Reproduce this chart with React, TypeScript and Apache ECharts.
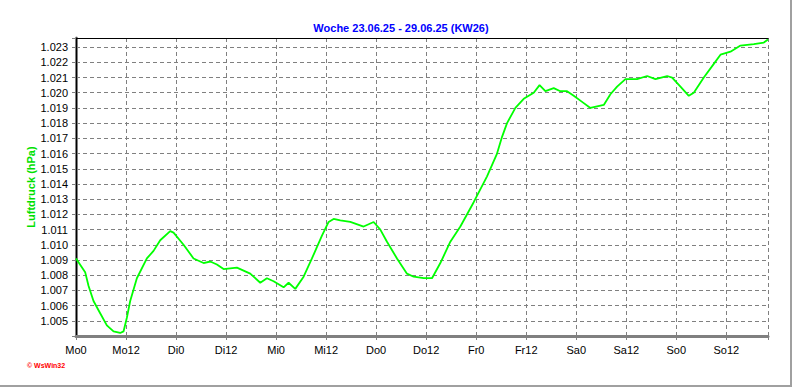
import React, { useEffect, useRef } from "react";
import * as echarts from "echarts";

const titleText = "Woche 23.06.25 - 29.06.25 (KW26)";
const yAxisName = "Luftdruck (hPa)";
const dayNames = ["Mo", "Di", "Mi", "Do", "Fr", "Sa", "So"];

const hours = [0, 2.2, 3.0, 4.2, 5.8, 7.4, 9.0, 10.6, 11.4, 12.2, 13.0, 14.6, 17.0, 18.6, 20.2, 22.6, 23.4, 25.8, 28.2, 30.6, 32.2, 33.8, 35.4, 38.6, 41.8, 44.2, 45.8, 47.4, 49.8, 51.0, 52.6, 54.6, 56.6, 59.0, 60.6, 61.8, 63.4, 65.8, 69.0, 71.4, 73.0, 74.6, 77.0, 79.4, 81.0, 83.4, 85.4, 87.4, 89.8, 92.2, 95.4, 98.6, 101.0, 102.2, 103.4, 105.4, 107.4, 109.8, 111.2, 112.6, 114.6, 116.2, 117.8, 119.4, 121.4, 123.4, 125.0, 126.6, 128.2, 129.8, 131.8, 134.6, 137.0, 139.0, 141.8, 143.0, 145.0, 147.0, 148.2, 150.6, 153.0, 154.6, 157.0, 159.4, 162.6, 165.0, 166.0];

const pressure = [1.0091, 1.0082, 1.0073, 1.0063, 1.0055, 1.0047, 1.0043, 1.0042, 1.0043, 1.0052, 1.0063, 1.0078, 1.0091, 1.0096, 1.0103, 1.0109, 1.0108, 1.0100, 1.0091, 1.0088, 1.0089, 1.0087, 1.0084, 1.0085, 1.0081, 1.0075, 1.0078, 1.0076, 1.0072, 1.0075, 1.0071, 1.0079, 1.0091, 1.0106, 1.0115, 1.0117, 1.0116, 1.0115, 1.0112, 1.0115, 1.0110, 1.0102, 1.0091, 1.0081, 1.0079, 1.0078, 1.0078, 1.0088, 1.0102, 1.0112, 1.0128, 1.0145, 1.0160, 1.0171, 1.0180, 1.0190, 1.0196, 1.0200, 1.0205, 1.0201, 1.0203, 1.0201, 1.0201, 1.0198, 1.0194, 1.0190, 1.0191, 1.0192, 1.0199, 1.0204, 1.0209, 1.0209, 1.0211, 1.0209, 1.0211, 1.0210, 1.0204, 1.0198, 1.0200, 1.0210, 1.0219, 1.0225, 1.0227, 1.0231, 1.0232, 1.0233, 1.0235];

const xMin = 0;
const xMax = 166;
const yMin = 1.004;
const yMax = 1.0236;

export default function App() {
  const ref = useRef<HTMLDivElement>(null);
  useEffect(() => {
    if (!ref.current) return;
    const chart = echarts.init(ref.current, null, { renderer: "svg" });
    const font = "'Liberation Sans', Arial, sans-serif";
    const data = hours.map((h, i) => [h, pressure[i]]);
    chart.setOption({
      animation: false,
      backgroundColor: "#ffffff",
      title: {
        text: titleText,
        left: 396,
        top: 17,
        textAlign: "center",
        textStyle: { color: "#0000ff", fontSize: 11, fontWeight: "bold", fontFamily: font },
      },
      grid: { left: 76, top: 38, right: 24, bottom: 51 },
      xAxis: [
        {
          type: "value",
          min: xMin,
          max: xMax,
          interval: 12,
          axisLine: { show: true, lineStyle: { color: "#808080", width: 3 } },
          axisTick: { show: true, length: 4, lineStyle: { color: "#808080" } },
          minorTick: { show: true, splitNumber: 4, length: 2, lineStyle: { color: "#808080" } },
          axisLabel: {
            color: "#000",
            fontSize: 11,
            fontFamily: font,
            margin: 8,
            formatter: (v: number) => {
              if (Math.abs(v % 12) > 0.01 || v >= xMax) return "";
              const d = Math.floor(v / 24);
              return dayNames[d] + String(Math.round(v % 24));
            },
          },
          splitLine: { show: true, lineStyle: { color: "#808080", type: [4, 3], width: 1 } },
        },
        {
          type: "value",
          position: "top",
          min: xMin,
          max: xMax,
          axisLine: { show: true, lineStyle: { color: "#000", width: 1 } },
          axisTick: { show: false },
          axisLabel: { show: false },
          splitLine: { show: false },
        },
      ],
      yAxis: [
        {
          type: "value",
          min: yMin,
          max: yMax,
          interval: 0.001,
          name: yAxisName,
          nameLocation: "middle",
          nameGap: 40,
          nameMoveOverlap: false,
          nameTextStyle: { color: "#00e000", fontSize: 11, fontWeight: "bold", fontFamily: font },
          axisLine: { show: true, lineStyle: { color: "#808080", width: 3 } },
          axisTick: { show: true, length: 4, lineStyle: { color: "#808080" } },
          axisLabel: {
            color: "#000",
            fontSize: 11,
            fontFamily: font,
            margin: 8,
            formatter: (v: number) => {
              const k = v * 1000;
              if (Math.abs(k - Math.round(k)) > 0.01 || v < 1.0045) return "";
              return v.toFixed(3);
            },
          },
          splitLine: { show: true, lineStyle: { color: "#808080", type: [4, 3], width: 1 } },
        },
        {
          type: "value",
          position: "right",
          min: yMin,
          max: yMax,
          axisLine: { show: true, lineStyle: { color: "#000", width: 1 } },
          axisTick: { show: false },
          axisLabel: { show: false },
          splitLine: { show: false },
        },
      ],
      graphic: [
        {
          type: "text",
          left: 27,
          top: 362,
          style: { text: "\u00a9 WsWin32", fill: "#ff0000", fontSize: 7, fontWeight: "bold", fontFamily: font },
        },
        { type: "rect", shape: { x: 0, y: 385, width: 792, height: 2 }, style: { fill: "#a0a0a0" } },
        { type: "rect", shape: { x: 790, y: 0, width: 2, height: 387 }, style: { fill: "#a0a0a0" } },
      ],
      series: [
        {
          type: "line",
          data,
          xAxisIndex: 0,
          yAxisIndex: 0,
          showSymbol: false,
          symbol: "none",
          smooth: false,
          lineStyle: { color: "#00ff00", width: 1.8 },
        },
      ],
    });
    return () => chart.dispose();
  }, []);
  return (
    <div
      ref={ref}
      style={{ position: "absolute", left: 0, top: 0, width: 792, height: 387 }}
    />
  );
}
